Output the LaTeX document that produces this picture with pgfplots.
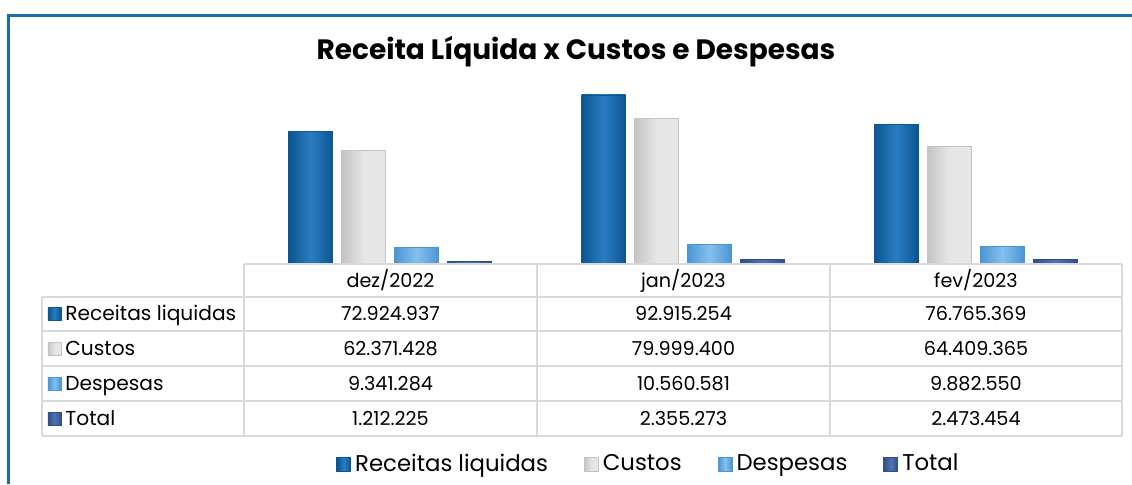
\documentclass[border=0pt]{standalone}
\usepackage{pgfplots}
\pgfplotsset{compat=1.18}
\usepackage{fontspec}
\setmainfont{Poppins}

\definecolor{frameblue}{HTML}{1A6AAE}
\definecolor{recdark}{HTML}{0B5591}
\definecolor{reclight}{HTML}{2A7DC2}
\definecolor{cusdark}{HTML}{C4C4C4}
\definecolor{cuslight}{HTML}{E6E6E6}
\definecolor{despdark}{HTML}{4B95D5}
\definecolor{desplight}{HTML}{86C0EC}
\definecolor{totdark}{HTML}{2F4F89}
\definecolor{totlight}{HTML}{5073B0}
\definecolor{gridgray}{HTML}{D9D9D9}

\tikzset{
  rec/.style={draw=recdark, left color=recdark, right color=recdark, middle color=reclight},
  cus/.style={draw=cusdark, left color=cusdark, right color=cuslight, middle color=cuslight},
  desp/.style={draw=despdark, left color=despdark, right color=despdark, middle color=desplight},
  tot/.style={draw=totdark, left color=totdark, right color=totdark, middle color=totlight},
}

\begin{document}
\begin{tikzpicture}
\useasboundingbox (-122pt,-110pt) rectangle (444pt,132pt);
\begin{axis}[
    at={(0,0)}, anchor=south west,
    scale only axis,
    width=439pt, height=91pt,
    hide axis,
    xmin=-0.5, xmax=2.5,
    ymin=0, ymax=100,
    ybar, bar width=22pt,
    legend image code/.code={\draw[#1] (0pt,-3.5pt) rectangle (7pt,3.5pt);},
    legend style={at={(0.4618,-1.099)}, anchor=center, draw=none,
        legend columns=-1, font=\fontsize{11.4}{13}\selectfont,
        /tikz/every even column/.append style={column sep=16pt}},
]
% one plot per bar, so that each bar gets its own shading
\addplot[rec,  bar shift=-39.75pt] coordinates {(0,72.924937)};
\addplot[cus,  bar shift=-13.25pt] coordinates {(0,62.371428)};
\addplot[desp, bar shift=13.25pt]  coordinates {(0,9.341284)};
\addplot[tot,  bar shift=39.75pt]  coordinates {(0,1.212225)};
\addplot[rec,  bar shift=-39.75pt, forget plot] coordinates {(1,92.915254)};
\addplot[cus,  bar shift=-13.25pt, forget plot] coordinates {(1,79.999400)};
\addplot[desp, bar shift=13.25pt,  forget plot] coordinates {(1,10.560581)};
\addplot[tot,  bar shift=39.75pt,  forget plot] coordinates {(1,2.355273)};
\addplot[rec,  bar shift=-39.75pt, forget plot] coordinates {(2,76.765369)};
\addplot[cus,  bar shift=-13.25pt, forget plot] coordinates {(2,64.409365)};
\addplot[desp, bar shift=13.25pt,  forget plot] coordinates {(2,9.882550)};
\addplot[tot,  bar shift=39.75pt,  forget plot] coordinates {(2,2.473454)};
\legend{Receitas liquidas, Custos, Despesas, Total}
\end{axis}

\begin{scope}[x=0.5pt, y=-0.5pt, shift={(-122pt,132pt)}]
  % frame
  \draw[frameblue, line width=1.5pt] (9,484) -- (9,15) -- (1132,15);
  % title
  \node[font=\fontsize{14}{17}\selectfont\bfseries] at (576,52) {Receita Líquida x Custos e Despesas};
  % data table
  \begin{scope}[gridgray, line width=1pt]
    \draw (244,264) -- (1122,264);
    \foreach \yy in {297,331,366,401,436} \draw (42,\yy) -- (1122,\yy);
    \draw (42,297) -- (42,436);
    \foreach \xx in {244,537,830,1122} \draw (\xx,264) -- (\xx,436);
  \end{scope}
  \begin{scope}[font=\fontsize{9.6}{11}\selectfont, every node/.style={anchor=base, inner sep=0pt}]
    \node at (390.5,287) {dez/2022};
    \node at (683.5,287) {jan/2023};
    \node at (976,287) {fev/2023};
    \node at (390.5,320.5) {72.924.937};
    \node at (683.5,320.5) {92.915.254};
    \node at (976,320.5) {76.765.369};
    \node at (390.5,355) {62.371.428};
    \node at (683.5,355) {79.999.400};
    \node at (976,355) {64.409.365};
    \node at (390.5,390) {9.341.284};
    \node at (683.5,390) {10.560.581};
    \node at (976,390) {9.882.550};
    \node at (390.5,425) {1.212.225};
    \node at (683.5,425) {2.355.273};
    \node at (976,425) {2.473.454};
  \end{scope}
  \path[rec] (48,307.5) rectangle (61,320.5);
  \path[cus] (48,342) rectangle (61,355);
  \path[desp] (48,377) rectangle (61,390);
  \path[tot] (48,412) rectangle (61,425);
  \begin{scope}[font=\fontsize{10.1}{12}\selectfont, every node/.style={anchor=base west, inner sep=0pt}]
    \node at (65,320.5) {Receitas liquidas};
    \node at (65,355) {Custos};
    \node at (65,390) {Despesas};
    \node at (65,425) {Total};
  \end{scope}
\end{scope}
\end{tikzpicture}
\end{document}
